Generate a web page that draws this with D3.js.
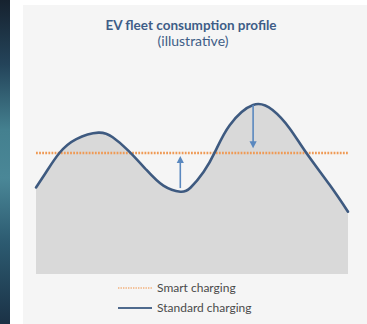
<!DOCTYPE html>
<html>
<head>
<meta charset="utf-8">
<script src="https://cdn.jsdelivr.net/npm/d3@7"></script>
<style>
  html, body { margin: 0; padding: 0; background: #ffffff; }
  svg { display: block; }
</style>
</head>
<body>
<svg id="chart" width="367" height="324"></svg>
<script>
// Hour of day for each sampled point of the profile
const hours = [0, 0.8, 1.8, 3.1, 4.8, 5.9, 7.1, 8.5, 9.8, 11.1, 11.9, 12.9, 13.8, 14.9, 16.7, 18.2, 19.5, 20.8, 22.6, 24];
// Standard (uncontrolled) charging load, relative units
const standardLoad = [71.5, 84.5, 100, 111.5, 116.8, 113, 102, 86, 73, 68.0, 71.5, 84.5, 101.5, 123, 139.7, 135.5, 120.5, 100, 73.5, 51.5];
// Flat load level reached with smart charging
const smartLevel = 100;
// Load-shift arrows: hour, start value, end value
const shiftHours = [11.1, 16.7];
const shiftFrom = [71, 139.7];
const shiftTo = [97.5, 104];

const seriesLabels = ["Smart charging", "Standard charging"];
const title = "EV fleet consumption profile";
const subtitle = "(illustrative)";

const svg = d3.select("#chart");
const W = 367, H = 324;

// Side accent strip
const defs = svg.append("defs");
const grad = defs.append("linearGradient").attr("id", "strip").attr("x1", 0).attr("y1", 0).attr("x2", 0).attr("y2", 1);
[["0%", "#16222f"], ["20%", "#24445a"], ["40%", "#44808f"], ["55%", "#4a8797"], ["75%", "#2c5a70"], ["100%", "#1b3246"]]
  .forEach(([o, c]) => grad.append("stop").attr("offset", o).attr("stop-color", c));
svg.append("rect").attr("x", 0).attr("y", 0).attr("width", 10).attr("height", H).attr("fill", "url(#strip)");

// Panel
svg.append("rect").attr("x", 23).attr("y", 5).attr("width", W - 23).attr("height", H - 5).attr("fill", "#f5f5f5");

const x = d3.scaleLinear().domain([0, 24]).range([36, 348]);
const y = d3.scaleLinear().domain([0, 140]).range([274, 274 - 140 * 1.21]);

const pts = hours.map((h, i) => [h, standardLoad[i]]);

const curve = d3.curveNatural;
const area = d3.area()
  .x(d => x(d[0])).y0(y(0)).y1(d => y(d[1]))
  .curve(curve);
const line = d3.line()
  .x(d => x(d[0])).y(d => y(d[1]))
  .curve(curve);

svg.append("path").datum(pts).attr("d", area).attr("fill", "#d9d9d9");

// Smart charging level
svg.append("line")
  .attr("x1", x(0)).attr("x2", x(24))
  .attr("y1", y(smartLevel)).attr("y2", y(smartLevel))
  .attr("stroke", "#ef9a55").attr("stroke-width", 2.4)
  .attr("stroke-dasharray", "1.8 1.3");

// Standard charging curve
svg.append("path").datum(pts).attr("d", line)
  .attr("fill", "none").attr("stroke", "#3e5a80").attr("stroke-width", 2.6)
  .attr("stroke-linecap", "round");

// Shift arrows
const arrowColor = "#5a88bf";
shiftHours.forEach((h, i) => {
  const ax = x(h), y0 = y(shiftFrom[i]), y1 = y(shiftTo[i]);
  const dir = y1 < y0 ? -1 : 1;
  const head = 7, hw = 3.6;
  svg.append("line")
    .attr("x1", ax).attr("x2", ax)
    .attr("y1", y0).attr("y2", y1 - dir * head + dir * 1)
    .attr("stroke", arrowColor).attr("stroke-width", 1.6);
  svg.append("path")
    .attr("d", `M${ax},${y1} L${ax - hw},${y1 - dir * head} L${ax + hw},${y1 - dir * head} Z`)
    .attr("fill", arrowColor);
});

// Titles
svg.append("text").attr("x", 191).attr("y", 30).attr("text-anchor", "middle")
  .attr("font-family", "Lato, 'Open Sans', sans-serif").attr("font-weight", "bold")
  .attr("font-size", 13.5).attr("fill", "#3e5d87").text(title);
svg.append("text").attr("x", 193).attr("y", 46).attr("text-anchor", "middle")
  .attr("font-family", "Lato, 'Open Sans', sans-serif")
  .attr("font-size", 14).attr("fill", "#3e5d87").text(subtitle);

// Legend
const legend = svg.append("g");
const legendY = [288, 308];
legend.append("line").attr("x1", 118).attr("x2", 152).attr("y1", legendY[0]).attr("y2", legendY[0])
  .attr("stroke", "#f2b07a").attr("stroke-width", 1.6).attr("stroke-dasharray", "1.4 1.1");
legend.append("line").attr("x1", 118).attr("x2", 152).attr("y1", legendY[1]).attr("y2", legendY[1])
  .attr("stroke", "#4f6a8e").attr("stroke-width", 2.2);
seriesLabels.forEach((s, i) => {
  legend.append("text").attr("x", 157).attr("y", legendY[i]).attr("dy", "0.35em")
    .attr("font-family", "Lato, 'Open Sans', sans-serif").attr("font-size", 12)
    .attr("fill", "#4a4a4a").text(s);
});
</script>
</body>
</html>
